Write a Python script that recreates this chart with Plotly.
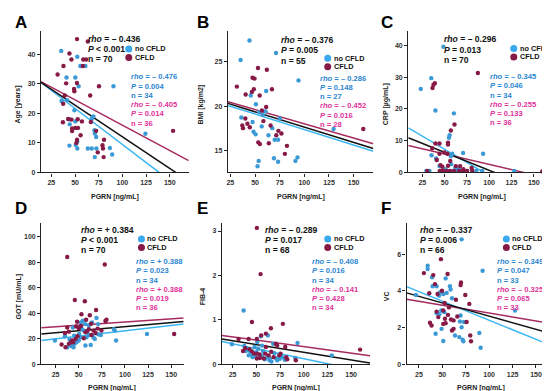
import plotly.graph_objects as go

W, H = 550, 391

# ---------------- data ----------------
# Panel A: Age [years]
A_no_x = [35.4, 52.4, 55.6, 61.0, 41.0, 50.3, 53.8, 90.6, 41.7, 35.8, 69.4, 49.3, 44.1, 44.4, 50.3, 67.7,
          70.5, 70.9, 72.3, 52.4, 50.7, 44.1, 86.8, 63.5, 67.7, 72.6, 52.4, 89.2, 70.9, 124.3]
A_no_y = [41.2, 39.2, 36.1, 36.1, 32.2, 32.2, 29.2, 29.2, 24.5, 24.2, 19.0, 21.1, 18.0, 16.3, 17.3, 18.2,
          14.3, 13.2, 12.0, 10.5, 9.3, 9.1, 8.3, 8.1, 8.1, 8.1, 8.1, 6.1, 5.2, 13.1]
A_cf_x = [52.1, 63.5, 44.1, 46.2, 58.7, 61.8, 58.3, 37.8, 31.6, 52.0, 40.6, 49.0, 49.3, 75.3, 39.2, 66.0,
          37.5, 37.2, 42.7, 46.2, 52.8, 57.3, 66.7, 46.9, 50.3, 53.1, 46.9, 55.9, 72.3, 52.1, 51.4, 80.6,
          79.0, 79.5, 74.0, 80.2, 153.5]
A_cf_y = [45.2, 44.4, 40.3, 38.3, 38.3, 38.3, 36.1, 36.1, 33.2, 30.3, 30.2, 28.3, 27.5, 29.2, 26.1, 26.1,
          23.3, 17.0, 18.1, 17.9, 18.0, 17.3, 17.1, 14.9, 15.1, 15.1, 14.0, 12.6, 14.1, 11.1, 10.0, 11.1,
          9.2, 8.1, 6.8, 5.2, 14.1]

# Panel B: BMI [kg/m2]
B_no_x = [44.4, 71.3, 35.4, 94.1, 61.3, 45.7, 50.9, 60.6, 54.4, 36.1, 75.1, 47.5, 48.5, 56.8, 67.5, 50.6,
          63.7, 69.9, 73.4, 69.2, 73.4, 93.1, 91.0, 53.7, 52.6, 129.7, 58.0]
B_no_y = [27.4, 26.0, 25.2, 22.9, 21.7, 21.2, 20.2, 19.4, 19.3, 18.7, 18.6, 18.2, 17.1, 17.7, 17.5, 16.8,
          16.7, 16.2, 16.2, 14.1, 13.7, 14.2, 13.8, 13.8, 13.2, 17.4, 19.0]
B_cf_x = [53.0, 62.0, 47.5, 49.5, 31.6, 67.2, 48.8, 46.8, 40.5, 54.7, 61.3, 40.2, 37.1, 37.8, 42.3, 44.7,
          58.5, 65.8, 73.7, 76.8, 71.6, 53.3, 55.0, 64.0, 82.4, 80.3, 159.8, 57.0]
B_cf_y = [24.3, 24.1, 23.2, 23.1, 22.2, 21.9, 21.9, 21.6, 21.3, 21.2, 19.9, 18.6, 17.8, 17.5, 18.0, 17.6,
          18.3, 17.8, 17.2, 16.9, 16.7, 15.9, 15.7, 15.8, 15.5, 14.6, 17.4, 19.5]

# Panel C: CRP [µg/mL]
C_no_x = [48.6, 35.0, 23.2, 39.7, 60.4, 55.6, 54.9, 93.2, 70.7, 35.3, 40.4, 58.6, 57.1, 44.2, 57.4, 85.5,
          92.1, 46.0, 48.5, 53.0, 57.5, 63.0, 68.5, 75.0, 29.5, 33.0, 128.2, 62.0, 51.0, 66.0]
C_no_y = [39.6, 29.7, 26.3, 19.5, 18.6, 11.7, 10.9, 5.9, 6.1, 5.4, 4.4, 5.9, 5.1, 2.0, 2.6, 0.5,
          0.5, 0.5, 0.5, 0.5, 0.5, 0.5, 0.5, 0.5, 0.5, 0.5, 0.5, 1.5, 1.0, 1.2]
C_cf_x = [87.3, 39.0, 37.5, 36.4, 61.1, 57.0, 39.7, 44.2, 53.8, 53.8, 36.1, 41.2, 44.2, 49.7, 53.0, 56.3,
          45.3, 47.5, 53.8, 62.6, 67.4, 80.3, 81.0, 44.5, 46.5, 48.7, 52.3, 55.9, 60.6, 66.0, 69.7, 72.0,
          75.3, 30.5, 159.6, 71.0]
C_cf_y = [31.3, 28.1, 27.6, 26.6, 15.1, 13.2, 9.1, 9.1, 9.4, 8.8, 7.6, 3.9, 5.9, 6.3, 5.9, 3.6,
          2.3, 1.8, 2.1, 2.0, 2.0, 1.4, 0.5, 0.5, 0.5, 0.5, 0.5, 0.5, 0.5, 0.5, 0.5, 0.5,
          0.5, 0.5, 0.3, 1.0]

# Panel D: GOT [mU/mL]
D_no_x = [69.2, 54.5, 52.3, 64.5, 71.0, 57.0, 43.7, 53.7, 55.5, 87.9, 89.0, 50.5, 60.9, 71.0, 73.9, 123.8,
          35.1, 45.1, 52.0, 58.4, 50.1, 24.3, 40.1, 47.6, 90.4, 45.5, 42.2, 37.6, 44.4, 63.0, 57.3, 67.4,
          61.0, 66.0]
D_no_y = [36.4, 34.1, 32.8, 32.8, 31.5, 31.5, 28.9, 27.6, 26.4, 27.6, 26.4, 23.8, 23.0, 23.5, 23.0, 23.8,
          22.0, 22.5, 21.2, 21.2, 18.6, 18.6, 19.4, 17.3, 18.6, 16.0, 14.2, 13.4, 13.4, 15.2, 14.7, 19.9,
          30.5, 21.0]
D_cf_x = [37.6, 78.2, 45.8, 56.6, 68.8, 53.0, 62.0, 78.9, 80.0, 48.3, 58.0, 63.4, 37.6, 47.3, 50.1, 60.9,
          66.0, 74.6, 35.1, 39.4, 57.3, 63.8, 68.1, 153.2, 48.7, 55.5, 43.0, 46.6, 41.5, 44.0, 31.5, 39.4,
          35.8, 52.5, 59.5, 70.5]
D_cf_y = [84.2, 78.3, 50.4, 49.4, 42.6, 39.3, 38.5, 33.9, 34.9, 33.3, 34.9, 31.8, 28.9, 29.7, 28.2, 27.6,
          26.4, 26.4, 24.5, 25.6, 25.1, 23.0, 24.5, 23.8, 22.0, 20.4, 18.6, 19.9, 17.3, 17.3, 15.5, 16.0,
          13.4, 30.0, 26.0, 28.0]

# Panel E: FIB-4
E_no_x = [36.6, 62.2, 54.8, 51.0, 93.5, 24.3, 37.3, 40.4, 48.2, 67.8, 43.6, 48.9, 55.9, 61.5, 64.0, 70.6,
          72.0, 77.3, 91.0, 64.0, 46.1, 129.6, 57.0, 52.0, 45.0, 59.0, 69.0, 74.5, 66.0, 39.0, 50.0, 56.0,
          80.0, 42.0]
E_no_y = [1.21, 0.65, 0.63, 0.50, 0.48, 0.45, 0.41, 0.35, 0.39, 0.46, 0.28, 0.18, 0.20, 0.16, 0.13, 0.14,
          0.09, 0.16, 0.14, 0.09, 0.16, 0.20, 0.30, 0.35, 0.22, 0.11, 0.25, 0.12, 0.06, 0.30, 0.27, 0.42,
          0.10, 0.20]
E_cf_x = [50.6, 54.5, 45.4, 78.0, 65.4, 60.1, 55.2, 50.6, 41.9, 70.6, 31.3, 38.3, 42.9, 80.5, 60.1, 45.4,
          47.5, 50.6, 53.8, 53.4, 59.4, 65.7, 68.2, 74.2, 75.6, 81.5, 82.6, 91.7, 50.6, 159.5, 58.0, 36.0,
          72.0, 63.0]
E_cf_y = [3.07, 2.03, 0.95, 0.91, 0.81, 0.69, 0.65, 0.57, 0.57, 0.46, 0.57, 0.36, 0.34, 0.39, 0.39, 0.29,
          0.24, 0.24, 0.14, 0.22, 0.24, 0.28, 0.16, 0.20, 0.24, 0.16, 0.11, 0.09, 0.13, 0.33, 0.13, 0.30,
          0.42, 0.20]

# Panel F: VC
F_no_x = [70.6, 34.3, 34.3, 93.0, 39.0, 53.5, 43.9, 58.1, 39.6, 58.8, 47.4, 51.0, 46.4, 54.6, 60.3, 21.8,
          43.9, 48.9, 52.1, 46.7, 127.6, 69.5, 73.1, 68.8, 70.6, 49.2, 42.8, 63.5, 89.5, 68.1, 71.7, 51.0,
          72.4, 90.9]
F_no_y = [6.81, 5.37, 5.19, 5.10, 4.74, 4.68, 4.25, 4.25, 4.25, 4.07, 3.92, 3.83, 3.74, 3.89, 3.60, 3.78,
          2.78, 2.93, 2.84, 2.73, 2.93, 2.66, 2.30, 2.33, 2.02, 1.93, 1.66, 1.57, 1.70, 1.48, 1.34, 1.27,
          1.25, 0.90]
F_cf_x = [48.5, 30.3, 55.6, 40.3, 42.1, 69.9, 69.5, 49.6, 44.9, 74.5, 36.0, 163.5, 64.5, 78.8, 52.4, 51.0,
          43.9, 56.0, 45.7, 52.8, 59.2, 62.0, 75.9, 51.0, 53.5, 36.8, 38.5, 62.0, 60.3, 79.8, 80.6, 57.0,
          66.0]
F_cf_y = [5.73, 4.97, 4.92, 4.86, 4.37, 4.46, 4.32, 4.01, 3.83, 3.78, 3.87, 3.54, 3.52, 3.29, 3.34, 2.93,
          2.87, 2.69, 2.57, 2.48, 2.44, 2.39, 2.30, 2.20, 2.24, 2.26, 2.11, 1.93, 1.84, 1.57, 1.25, 3.10,
          2.60]

# Regression lines: [intercept, slope] for all / no CFLD / CFLD
fit_all = {"A": [33.5, -0.2143], "B": [21.08, -0.0346], "C": [11.94, -0.1128],
           "D": [23.2, 0.0637], "E": [0.617, -0.003455], "F": [4.06, -0.01438]}
fit_no = {"A": [33.9, -0.2442], "B": [20.85, -0.035], "C": [15.59, -0.1658],
          "D": [17.8, 0.0839], "E": [0.571, -0.004466], "F": [4.475, -0.02076]}
fit_cf = {"A": [33.2, -0.1717], "B": [21.22, -0.0322], "C": [9.11, -0.0659],
          "D": [28.24, 0.0488], "E": [0.69, -0.00294], "F": [3.64, -0.00852]}

# Statistics text
stats_all = {"A": ["– 0.436", "< 0.001", "70"], "B": ["– 0.376", "= 0.005", "55"],
             "C": ["– 0.296", "= 0.013", "70"], "D": ["+ 0.384", "< 0.001", "70"],
             "E": ["– 0.289", "= 0.017", "68"], "F": ["– 0.337", "= 0.006", "66"]}
stats_no = {"A": ["– 0.476", "0.004", "34"], "B": ["– 0.286", "0.148", "27"],
            "C": ["– 0.345", "0.046", "34"], "D": ["+ 0.388", "0.023", "34"],
            "E": ["– 0.408", "0.016", "34"], "F": ["– 0.349", "0.047", "33"]}
stats_cf = {"A": ["– 0.405", "0.014", "36"], "B": ["– 0.452", "0.016", "28"],
            "C": ["– 0.255", "0.133", "36"], "D": ["+ 0.388", "0.019", "36"],
            "E": ["– 0.141", "0.428", "34"], "F": ["– 0.325", "0.065", "33"]}

y_titles = {"A": "Age [years]", "B": "BMI [kg/m2]", "C": "CRP [µg/mL]",
            "D": "GOT [mU/mL]", "E": "FIB-4", "F": "VC"}
x_title = "PGRN [ng/mL]"
x_ticks = [25, 50, 75, 100, 125, 150]
y_ticks = {"A": [0, 10, 20, 30, 40], "B": [15, 20, 25], "C": [0, 10, 20, 30, 40],
           "D": [0, 20, 40, 60, 80, 100], "E": [0, 1, 2, 3], "F": [0, 2, 4, 6]}
x_ranges = {"A": [14, 170], "B": [22.5, 170], "C": [9.2, 175], "D": [9.5, 163.5],
            "E": [13.7, 170], "F": [11.8, 170.3]}
y_ranges = {"A": [0, 48], "B": [12.5, 28.5], "C": [0, 44.6], "D": [0, 111],
            "E": [0, 3.18], "F": [0, 7.7]}

# ---------------- layout geometry (pixels) ----------------
# left, right, top, bottom of each plot area
boxes = {"A": (32, 180, 23, 165.7), "B": (219.3, 365, 23, 165.7), "C": (400, 548, 23, 165.7),
         "D": (32.3, 175, 216.5, 359), "E": (213.3, 361.7, 216.7, 359), "F": (398.3, 547, 216.7, 359)}
# offsets: black stats (dx, dy0), legend (dx, dy0), colored stats (dx, dy0)
offs = {"A": ((45.5, 8.0), (88, 18.3), (88, 46.5)),
        "B": ((50.7, 9.3), (100, 27.7), (90, 47.7)),
        "C": ((33.3, 8.7), (105.7, 17.7), (80, 46.3)),
        "D": ((37.7, 6.8), (100.4, 16.2), (92.7, 39.2)),
        "E": ((40.7, 6.6), (106, 16.0), (88.4, 39.0)),
        "F": ((11, 6.6), (100, 16.0), (88.4, 39.0))}
letter_pos = {"A": (4, 15), "B": (186, 15), "C": (371, 15), "D": (4, 202), "E": (186, 202), "F": (371, 202)}
ytitle_x = {"A": 9, "B": 192.3, "C": 377.3, "D": 10, "E": 194, "F": 378.3}
xtitle_y = {"A": 190, "B": 190, "C": 190, "D": 383, "E": 383, "F": 383}

C_BLUE_PT = "#3b9ad6"
C_RED_PT = "#871947"
C_BLUE_LN = "#3ab6f4"
C_RED_LN = "#a52a5e"
C_BLUE_TX = "#2b86d1"
C_RED_TX = "#e0319b"
FONT = "Arial"


def px(x):
    return x / W


def py(y):
    return 1 - y / H


data = {
    "A": (A_no_x, A_no_y, A_cf_x, A_cf_y), "B": (B_no_x, B_no_y, B_cf_x, B_cf_y),
    "C": (C_no_x, C_no_y, C_cf_x, C_cf_y), "D": (D_no_x, D_no_y, D_cf_x, D_cf_y),
    "E": (E_no_x, E_no_y, E_cf_x, E_cf_y), "F": (F_no_x, F_no_y, F_cf_x, F_cf_y),
}

fig = go.Figure()
annotations = []
shapes = []

for i, key in enumerate(["A", "B", "C", "D", "E", "F"]):
    n = i + 1
    xa = "x" if n == 1 else f"x{n}"
    ya = "y" if n == 1 else f"y{n}"
    l, r, t, b = boxes[key]
    nox, noy, cfx, cfy = data[key]
    x0, x1 = x_ranges[key]

    # regression lines
    for fit, col in ((fit_no, C_BLUE_LN), (fit_cf, C_RED_LN), (fit_all, "#111111")):
        a, s = fit[key]
        fig.add_trace(go.Scatter(x=[x0, x1], y=[a + s * x0, a + s * x1], mode="lines",
                                 line=dict(color=col, width=1.5), xaxis=xa, yaxis=ya,
                                 showlegend=False, hoverinfo="skip"))
    fig.add_trace(go.Scatter(x=nox, y=noy, mode="markers", name="no CFLD",
                             marker=dict(color=C_BLUE_PT, size=4.4), xaxis=xa, yaxis=ya,
                             showlegend=False, cliponaxis=False))
    fig.add_trace(go.Scatter(x=cfx, y=cfy, mode="markers", name="CFLD",
                             marker=dict(color=C_RED_PT, size=4.4), xaxis=xa, yaxis=ya,
                             showlegend=False, cliponaxis=False))

    axis_common = dict(showgrid=False, zeroline=False, showline=True, linecolor="#222",
                       linewidth=1.2, ticks="outside", ticklen=3, tickwidth=1, tickcolor="#222",
                       tickfont=dict(family=FONT, size=7, color="#333", weight="bold"))
    fig.layout[("xaxis" if n == 1 else f"xaxis{n}")] = dict(
        domain=[px(l), px(r)], range=x_ranges[key], tickvals=x_ticks, anchor=ya, **axis_common)
    fig.layout[("yaxis" if n == 1 else f"yaxis{n}")] = dict(
        domain=[py(b), py(t)], range=y_ranges[key], tickvals=y_ticks[key], anchor=xa, **axis_common)

    (bdx, bdy), (ldx, ldy), (cdx, cdy) = offs[key]
    # black stats
    rho, p, nn = stats_all[key]
    lines = [f"<i>rho</i> = {rho}", f"<i>P</i> {p}", f"n = {nn}"]
    for j, txt in enumerate(lines):
        annotations.append(dict(x=px(l + bdx), y=py(t + bdy + j * 10.4), xref="paper", yref="paper",
                                text=f"<b>{txt}</b>", showarrow=False, xanchor="left", yanchor="middle",
                                font=dict(family=FONT, size=8.6, color="#111")))
    # legend
    for j, (lab, col) in enumerate((("no CFLD", "#39a8ec"), ("CFLD", C_RED_PT))):
        cy = t + ldy + j * 8.6
        cx = l + ldx
        shapes.append(dict(type="circle", xref="paper", yref="paper", xsizemode="pixel",
                           ysizemode="pixel", xanchor=px(cx), yanchor=py(cy), x0=-3.5, x1=3.5,
                           y0=-3.5, y1=3.5, fillcolor=col, line=dict(width=0)))
        annotations.append(dict(x=px(cx + 3.8), y=py(cy), xref="paper", yref="paper",
                                text=f"<b>{lab}</b>", showarrow=False, xanchor="left", yanchor="middle",
                                font=dict(family=FONT, size=7.3, color="#111")))
    # colored stats
    seq = []
    for st, col in ((stats_no[key], C_BLUE_TX), (stats_cf[key], C_RED_TX)):
        seq += [(f"<i>rho</i> = {st[0]}", col), (f"<i>P</i> = {st[1]}", col), (f"n = {st[2]}", col)]
    for j, (txt, col) in enumerate(seq):
        annotations.append(dict(x=px(l + cdx), y=py(t + cdy + j * 9.3), xref="paper", yref="paper",
                                text=f"<b>{txt}</b>", showarrow=False, xanchor="left", yanchor="middle",
                                font=dict(family=FONT, size=7.6, color=col)))
    # panel letter
    lx, ly = letter_pos[key]
    annotations.append(dict(x=px(lx), y=py(ly), xref="paper", yref="paper", text=f"<b>{key}</b>",
                            showarrow=False, xanchor="left", yanchor="middle",
                            font=dict(family=FONT, size=17, color="#000")))
    # axis titles
    annotations.append(dict(x=px(ytitle_x[key]), y=py((t + b) / 2 + 3), xref="paper", yref="paper",
                            text=f"<b>{y_titles[key]}</b>", showarrow=False, textangle=-90,
                            xanchor="center", yanchor="middle",
                            font=dict(family=FONT, size=7, color="#222")))
    annotations.append(dict(x=px((l + r) / 2), y=py(xtitle_y[key]), xref="paper", yref="paper",
                            text=f"<b>{x_title}</b>", showarrow=False, xanchor="center", yanchor="middle",
                            font=dict(family=FONT, size=7, color="#222")))

fig.update_layout(width=W, height=H, margin=dict(l=0, r=0, t=0, b=0),
                  plot_bgcolor="white", paper_bgcolor="white", showlegend=False,
                  annotations=annotations, shapes=shapes)

fig.write_html("out.html")
